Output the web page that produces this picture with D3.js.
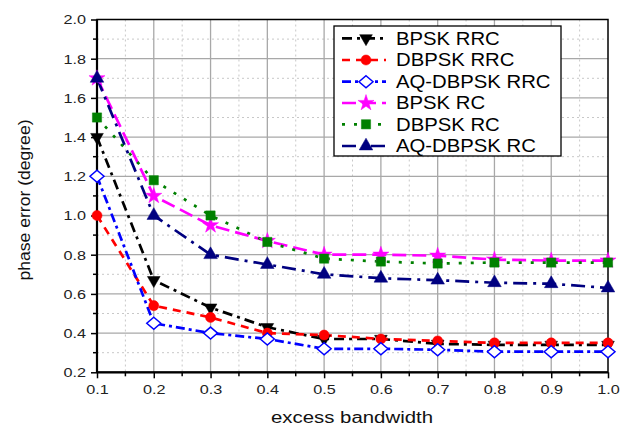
<!DOCTYPE html>
<html><head><meta charset="utf-8">
<script src="https://cdn.jsdelivr.net/npm/d3@7"></script>
<style>body{margin:0;background:#fff}svg{display:block}text{font-family:Arial,"Liberation Sans",sans-serif}</style>
</head><body><svg id="c" width="630" height="426"></svg>
<script>
const xValues = [0.1,0.2,0.3,0.4,0.5,0.6,0.7,0.8,0.9,1.0];
const seriesNames = ["BPSK RRC","DBPSK RRC","AQ-DBPSK RRC","BPSK RC","DBPSK RC","AQ-DBPSK RC"];
const bpskRRC   = [1.40,0.67,0.53,0.43,0.37,0.37,0.345,0.34,0.34,0.34];
const dbpskRRC  = [1.00,0.54,0.48,0.40,0.39,0.37,0.36,0.35,0.35,0.35];
const aqRRC     = [1.20,0.45,0.40,0.37,0.32,0.32,0.315,0.305,0.305,0.305];
const bpskRC    = [1.70,1.10,0.95,0.87,0.80,0.80,0.795,0.775,0.77,0.77];
const dbpskRC   = [1.50,1.18,1.00,0.865,0.78,0.765,0.755,0.76,0.76,0.76];
const aqRC      = [1.70,1.00,0.80,0.75,0.70,0.68,0.67,0.657,0.652,0.63];
const xTicks = [0.1,0.2,0.3,0.4,0.5,0.6,0.7,0.8,0.9,1.0];
const yTicks = [0.2,0.4,0.6,0.8,1.0,1.2,1.4,1.6,1.8,2.0];

const styles = [
  {color:"#000000", dash:"10,5,3,5", marker:"triDown", fill:"#000000"},
  {color:"#ff0000", dash:"8,6", marker:"circle", fill:"#ff0000"},
  {color:"#0000ff", dash:"9,4,3,4", marker:"diamond", fill:"#ffffff"},
  {color:"#ff00ff", dash:"14,6", marker:"star", fill:"#ff00ff"},
  {color:"#008000", dash:"3,9", marker:"square", fill:"#008000"},
  {color:"#000080", dash:"14,6,3,6", marker:"triUp", fill:"#000080"}
];
const allSeries = [bpskRRC,dbpskRRC,aqRRC,bpskRC,dbpskRC,aqRC];

function stretch(sel,f){
  sel.each(function(){
    const w=this.getComputedTextLength();
    d3.select(this).attr("textLength",w*f).attr("lengthAdjust","spacingAndGlyphs");
  });
}

const svg = d3.select("#c");
const L=97, R=608, T=19.5, B=372.3;
const x = d3.scaleLinear().domain([0.1,1.0]).range([L,R]);
const y = d3.scaleLinear().domain([0.2,2.0]).range([B,T]);

const g = svg.append("g");
g.selectAll(".mx").data(d3.range(0.15,1.0,0.1)).enter().append("line")
  .attr("x1",d=>x(d)).attr("x2",d=>x(d)).attr("y1",T).attr("y2",B)
  .attr("stroke","#c8c8c8").attr("stroke-width",1).attr("stroke-dasharray","2,3");
g.selectAll(".my").data(d3.range(0.3,2.0,0.2)).enter().append("line")
  .attr("y1",d=>y(d)).attr("y2",d=>y(d)).attr("x1",L).attr("x2",R)
  .attr("stroke","#c8c8c8").attr("stroke-width",1).attr("stroke-dasharray","2,3");
g.selectAll(".gx").data(xTicks.slice(1,-1)).enter().append("line")
  .attr("x1",d=>x(d)).attr("x2",d=>x(d)).attr("y1",T).attr("y2",B)
  .attr("stroke","#a8a8a8").attr("stroke-width",1.3);
g.selectAll(".gy").data(yTicks.slice(1,-1)).enter().append("line")
  .attr("y1",d=>y(d)).attr("y2",d=>y(d)).attr("x1",L).attr("x2",R)
  .attr("stroke","#a8a8a8").attr("stroke-width",1.3);

const xAxis = d3.axisBottom(x).tickValues(xTicks).tickFormat(d3.format(".1f")).tickSize(6).tickPadding(6);
const yAxis = d3.axisLeft(y).tickValues(yTicks).tickFormat(d3.format(".1f")).tickSize(6).tickPadding(5);
const xa = svg.append("g").attr("transform",`translate(0,${B})`).call(xAxis);
const ya = svg.append("g").attr("transform",`translate(${L},0)`).call(yAxis);
[xa,ya].forEach(a=>{
  a.select(".domain").remove();
  a.selectAll("line").attr("stroke","#000").attr("stroke-width",1.5);
  a.selectAll("text").attr("font-size",13.5).attr("fill","#222");
  stretch(a.selectAll("text"),1.2);
});
svg.append("g").selectAll("line").data(d3.range(0.15,1.0,0.1)).enter().append("line")
  .attr("x1",d=>x(d)).attr("x2",d=>x(d)).attr("y1",B).attr("y2",B+4).attr("stroke","#000").attr("stroke-width",1.5);
svg.append("g").selectAll("line").data(d3.range(0.3,2.0,0.2)).enter().append("line")
  .attr("y1",d=>y(d)).attr("y2",d=>y(d)).attr("x1",L).attr("x2",L-4).attr("stroke","#000").attr("stroke-width",1.5);

svg.append("rect").attr("x",L).attr("y",T).attr("width",R-L).attr("height",B-T)
  .attr("fill","none").attr("stroke","#000").attr("stroke-width",1.5);
svg.append("line").attr("x1",L).attr("x2",L).attr("y1",T).attr("y2",B).attr("stroke","#000").attr("stroke-width",2.2);
svg.append("line").attr("x1",L).attr("x2",R).attr("y1",B).attr("y2",B).attr("stroke","#000").attr("stroke-width",2.2);

const xt = svg.append("text").attr("x",352).attr("y",423).attr("text-anchor","middle")
  .attr("font-size",16).attr("fill","#111").text("excess bandwidth");
xt.attr("textLength",162).attr("lengthAdjust","spacingAndGlyphs");
svg.append("text").attr("transform",`translate(30,200) rotate(-90)`).attr("text-anchor","middle")
  .attr("font-size",16).attr("fill","#111").attr("textLength",161).attr("lengthAdjust","spacingAndGlyphs")
  .text("phase error (degree)");

function markerPath(type){
  switch(type){
    case "triDown": return d3.symbol(d3.symbolTriangle,70)();
    case "triUp": return d3.symbol(d3.symbolTriangle,80)();
    case "circle": return d3.symbol(d3.symbolCircle,80)();
    case "diamond": return "M0,-6L7,0L0,6L-7,0Z";
    case "star": return d3.symbol(d3.symbolStar,80)();
    case "square": return d3.symbol(d3.symbolSquare,85)();
  }
}
function drawMarker(sel,st){
  sel.append("path").attr("d",markerPath(st.marker))
    .attr("transform",st.marker==="triDown"?"rotate(180)":null)
    .attr("fill",st.fill).attr("stroke",st.color).attr("stroke-width",st.marker==="diamond"?1.5:0.5);
}

const line = d3.line().x((d,i)=>x(xValues[i])).y(d=>y(d));
const plot = svg.append("g");
allSeries.forEach((vals,k)=>{
  const st=styles[k];
  plot.append("path").datum(vals).attr("d",line).attr("fill","none")
    .attr("stroke",st.color).attr("stroke-width",2.7).attr("stroke-dasharray",st.dash);
});
allSeries.forEach((vals,k)=>{
  const st=styles[k];
  plot.selectAll(null).data(vals).enter().append("g")
    .attr("transform",(d,i)=>`translate(${x(xValues[i])},${y(d)})`)
    .each(function(){drawMarker(d3.select(this),st);});
});

const lg = svg.append("g");
lg.append("rect").attr("x",334).attr("y",26).attr("width",227).attr("height",130)
  .attr("fill","#fff").attr("stroke","#000").attr("stroke-width",1.3);
const rowY=[38.3,60,81.7,103,124.3,146];
seriesNames.forEach((name,k)=>{
  const st=styles[k];
  const yy=rowY[k];
  lg.append("line").attr("x1",342).attr("x2",386).attr("y1",yy).attr("y2",yy)
    .attr("stroke",st.color).attr("stroke-width",2.7).attr("stroke-dasharray",st.dash);
  const m=lg.append("g").attr("transform",`translate(366,${yy})`);
  drawMarker(m,st);
  const t=lg.append("text").attr("x",396).attr("y",yy+6.3).attr("font-size",17.5).attr("fill","#000").text(name);
  stretch(t,1.16);
});
</script></body></html>
